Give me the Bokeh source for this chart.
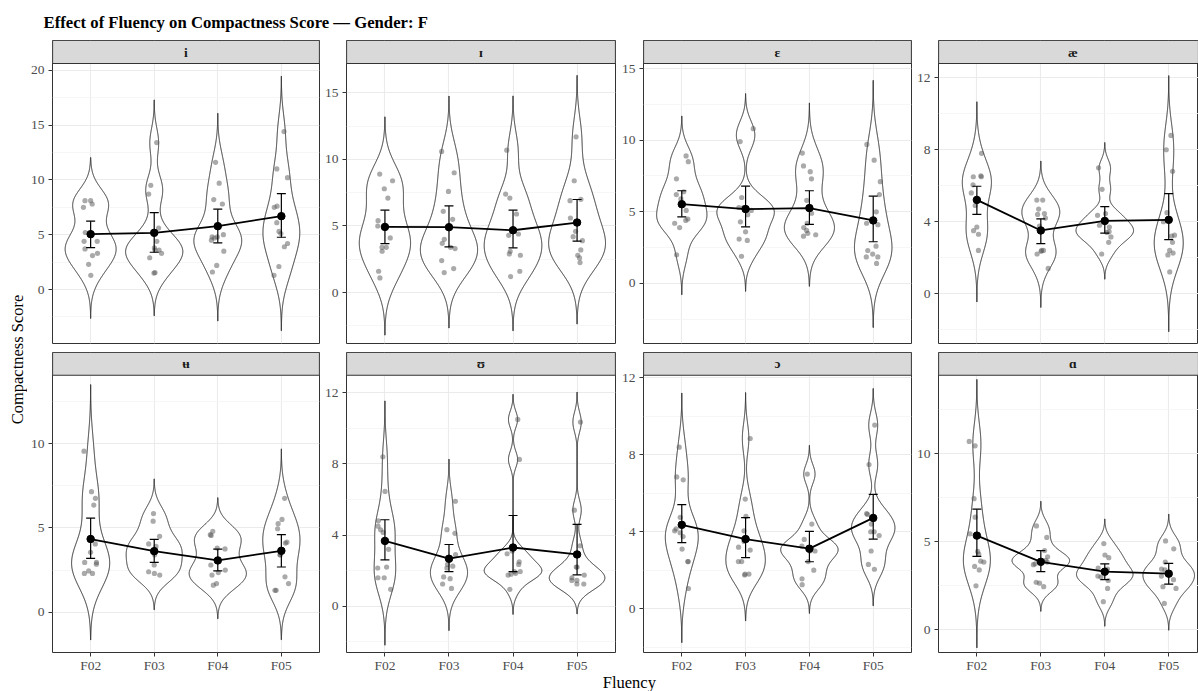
import numpy as np
from bokeh.plotting import figure
from bokeh.layouts import column, row
from bokeh.models import Range1d, FixedTicker, ColumnDataSource, Whisker, TeeHead
from bokeh.core.properties import value
from bokeh.embed import file_html
from bokeh.resources import INLINE

# ---------------- data ----------------
title = "Effect of Fluency on Compactness Score — Gender: F"
x_title = "Fluency"
y_title = "Compactness Score"
fluency = ["F02", "F03", "F04", "F05"]
vowels = ["i", "ɪ", "ɛ", "æ", "ʉ", "ʊ", "ɔ", "ɑ"]

# individual compactness scores, per vowel: [F02, F03, F04, F05]
scores_i = [[8.1, 8.1, 7.8, 7.5, 5.2, 4.4, 4.4, 3.7, 3.3, 3.1, 2.3, 1.3],
            [13.4, 9.5, 8.7, 5.6, 4.4, 3.8, 3.6, 3.6, 3.3, 2.9, 1.55, 1.5],
            [11.6, 9.7, 8.2, 7.8, 5.0, 4.8, 4.8, 4.7, 4.5, 3.5, 2.2, 1.6],
            [14.4, 11.0, 10.2, 7.6, 7.5, 6.1, 5.3, 5.1, 4.2, 3.9, 2.1, 1.3]]
scores_ih = [[8.9, 8.4, 7.8, 7.1, 5.4, 5.0, 4.1, 3.4, 3.4, 3.1, 1.6, 1.1],
             [10.6, 9.0, 7.6, 6.1, 5.5, 4.0, 3.7, 3.4, 3.3, 2.4, 1.8, 1.5],
             [10.7, 7.4, 7.1, 5.9, 4.6, 4.4, 4.3, 3.1, 2.9, 2.8, 1.6, 1.2],
             [11.7, 8.4, 7.0, 6.9, 5.6, 4.6, 4.2, 3.9, 3.2, 2.8, 2.6, 2.25]]
scores_eh = [[8.9, 8.5, 7.3, 6.4, 6.2, 5.9, 5.1, 4.5, 4.4, 4.2, 3.9, 2.0],
             [10.8, 9.9, 6.0, 5.3, 5.3, 5.1, 4.8, 4.3, 3.6, 3.1, 3.0, 1.9],
             [9.1, 8.2, 7.8, 7.3, 5.8, 4.9, 4.2, 3.9, 3.7, 3.5, 3.4, 3.3],
             [9.7, 8.6, 7.1, 6.2, 5.0, 4.2, 4.1, 2.6, 2.3, 2.05, 1.85, 1.85, 1.4]]
scores_ae = [[7.8, 6.55, 6.5, 6.5, 6.05, 5.6, 4.9, 3.7, 3.5, 3.3, 2.4],
             [5.2, 5.2, 4.7, 4.45, 4.4, 4.2, 3.75, 2.4, 2.4, 2.35, 2.2, 1.4],
             [7.0, 5.8, 4.45, 4.35, 3.8, 3.7, 3.45, 3.4, 3.15, 2.85, 2.2],
             [8.8, 8.0, 6.8, 4.5, 4.0, 3.25, 3.2, 2.85, 2.4, 2.25, 2.15, 1.2]]
scores_ubar = [[9.55, 7.15, 6.75, 6.35, 4.05, 3.55, 2.95, 2.95, 2.85, 2.45, 2.3, 2.3],
               [5.85, 5.4, 4.5, 4.05, 3.9, 3.6, 3.4, 2.8, 2.4, 2.3, 2.2],
               [4.8, 4.6, 4.55, 3.8, 3.75, 2.8, 2.5, 2.35, 2.2, 1.7, 1.6],
               [6.75, 5.5, 5.25, 4.95, 4.15, 4.1, 3.4, 3.4, 2.1, 1.7, 1.3, 1.3]]
scores_uh = [[8.4, 6.45, 4.8, 4.5, 4.3, 4.15, 3.2, 2.2, 2.15, 1.6, 1.6, 0.95],
             [5.9, 4.3, 4.1, 2.9, 2.35, 2.25, 2.15, 1.65, 1.55, 1.25, 1.0],
             [10.5, 8.25, 3.1, 2.95, 2.5, 2.35, 1.95, 1.95, 1.85, 1.8, 1.75, 0.95],
             [10.35, 5.4, 3.4, 2.2, 2.2, 1.75, 1.6, 1.45, 1.45, 1.25, 1.25]]
scores_oh = [[8.4, 6.85, 6.7, 4.75, 4.15, 4.05, 3.95, 3.75, 3.1, 2.45, 2.45, 1.05],
             [8.85, 5.7, 4.8, 4.05, 3.5, 3.2, 3.05, 2.45, 2.45, 1.8, 1.8, 1.75],
             [7.0, 4.4, 3.6, 3.25, 3.1, 3.0, 3.0, 2.45, 2.0, 1.55, 1.25],
             [9.55, 7.5, 4.95, 4.9, 4.4, 4.0, 4.0, 3.8, 3.0, 2.3, 2.05]]
scores_ah = [[10.7, 10.45, 7.45, 6.4, 5.45, 4.45, 4.3, 3.9, 3.85, 3.6, 3.4, 2.5],
             [5.9, 5.25, 4.5, 4.15, 3.95, 3.85, 3.75, 3.7, 2.7, 2.65, 2.45],
             [4.9, 4.25, 4.1, 3.5, 3.45, 3.05, 3.0, 2.8, 2.35, 1.6],
             [5.05, 4.6, 3.85, 3.45, 3.4, 3.05, 2.85, 2.45, 2.35, 1.5]]

# mean and error-bar limits, per vowel: [F02, F03, F04, F05]
mean_i = [5.05, 5.17, 5.78, 6.69]; low_i = [3.83, 3.40, 4.26, 4.77]; high_i = [6.23, 7.02, 7.33, 8.75]
mean_ih = [4.93, 4.91, 4.68, 5.26]; low_ih = [3.68, 3.43, 3.36, 3.86]; high_ih = [6.19, 6.51, 6.19, 6.99]
mean_eh = [5.53, 5.19, 5.26, 4.40]; low_eh = [4.65, 3.95, 4.12, 2.91]; high_eh = [6.47, 6.79, 6.47, 6.09]
mean_ae = [5.21, 3.51, 4.04, 4.10]; low_ae = [4.41, 2.78, 3.36, 3.00]; high_ae = [5.97, 4.15, 4.84, 5.56]
mean_ubar = [4.34, 3.62, 3.07, 3.64]; low_ubar = [3.19, 2.95, 2.45, 2.68]; high_ubar = [5.58, 4.32, 3.74, 4.60]
mean_uh = [3.67, 2.67, 3.30, 2.91]; low_uh = [2.60, 1.95, 1.95, 1.76]; high_uh = [4.86, 3.47, 5.10, 4.60]
mean_oh = [4.36, 3.62, 3.12, 4.72]; low_oh = [3.43, 2.66, 2.44, 3.62]; high_oh = [5.41, 4.74, 4.02, 5.94]
mean_ah = [5.35, 3.86, 3.30, 3.19]; low_ah = [4.17, 3.30, 2.85, 2.59]; high_ah = [6.85, 4.50, 3.75, 3.77]

scores = [scores_i, scores_ih, scores_eh, scores_ae, scores_ubar, scores_uh, scores_oh, scores_ah]
means = [mean_i, mean_ih, mean_eh, mean_ae, mean_ubar, mean_uh, mean_oh, mean_ah]
lows = [low_i, low_ih, low_eh, low_ae, low_ubar, low_uh, low_oh, low_ah]
highs = [high_i, high_ih, high_eh, high_ae, high_ubar, high_uh, high_oh, high_ah]

# y-axis ticks per panel (free scales)
y_major = [[0, 5, 10, 15, 20], [0, 5, 10, 15], [0, 5, 10, 15], [0, 4, 8, 12],
           [0, 5, 10], [0, 4, 8, 12], [0, 4, 8, 12], [0, 5, 10]]

# ---------------- layout / style ----------------
y_limits = [(-4.92, 20.61), (-3.83, 17.21), (-4.19, 15.35), (-2.78, 12.80),
            (-2.39, 14.05), (-2.60, 12.98), (-2.28, 12.14), (-1.29, 14.46)]
SERIF = "Liberation Serif"
DARK = "#333333"
GRID = "#EBEBEB"
MINOR = "#F4F4F4"
PANEL_H = 280
STRIP_H = 23
col_left = [24, 25, 26, 25]
col_frame = [268, 269, 268, 260]
col_right = [2, 2, 2, 0]
x_end = [4.6, 4.6, 4.6, 0.4 + 260 * 4.2 / 268.6]
positions = list(range(1, len(fluency) + 1))
rng = np.random.default_rng(11)


def bw_nrd0(v):
    v = np.asarray(v, float)
    sd = v.std(ddof=1)
    q75, q25 = np.percentile(v, [75, 25])
    lo = min(sd, (q75 - q25) / 1.34)
    if lo <= 0:
        lo = sd if sd > 0 else 1.0
    return 0.9 * lo * len(v) ** -0.2


def minor_of(major, lim):
    step = major[1] - major[0]
    vals = np.arange(major[0] - step / 2, lim[1], step)
    return [float(t) for t in vals if lim[0] <= t <= lim[1]]


def make_panel(k):
    c = k % 4
    r = k // 4
    W = col_left[c] + col_frame[c] + col_right[c]
    bottom = 9 if r == 0 else 20
    lo, hi = y_limits[k]
    strip_units = STRIP_H * (hi - lo) / PANEL_H
    top = hi + strip_units
    p = figure(width=W, height=PANEL_H + STRIP_H + bottom, x_range=Range1d(0.4, x_end[c]),
               y_range=Range1d(lo, top), output_backend="svg", toolbar_location=None,
               min_border_left=col_left[c], min_border_right=col_right[c],
               min_border_top=0, min_border_bottom=bottom,
               background_fill_color="white", border_fill_color="white",
               outline_line_color=DARK, outline_line_width=1)
    yt = FixedTicker(ticks=y_major[k], minor_ticks=minor_of(y_major[k], (lo, hi)))
    xt = FixedTicker(ticks=positions)
    p.yaxis.ticker = yt
    p.ygrid.ticker = yt
    p.xaxis.ticker = xt
    p.xgrid.ticker = xt
    p.xaxis.major_label_overrides = {pos: f for pos, f in zip(positions, fluency)}
    p.ygrid.grid_line_color = GRID
    p.ygrid.grid_line_width = 1.1
    p.ygrid.minor_grid_line_color = MINOR
    p.ygrid.minor_grid_line_width = 0.8
    p.xgrid.grid_line_color = GRID
    p.xgrid.grid_line_width = 1.1
    for ax in p.axis:
        ax.axis_line_color = None
        ax.major_tick_line_color = DARK
        ax.major_tick_out = 4
        ax.major_tick_in = 0
        ax.minor_tick_line_color = None
        ax.major_label_text_font = SERIF
        ax.major_label_text_font_size = "13.5px"
        ax.major_label_text_color = "#4D4D4D"
    p.yaxis.major_label_standoff = 4
    p.xaxis.major_label_standoff = 1
    if r == 0:
        p.xaxis.visible = False

    # facet strip (grey band above the panel)
    p.quad(left=[0.4], right=[x_end[c]], bottom=[hi], top=[top], fill_color="#D9D9D9",
           line_color=DARK, line_width=1.2)
    p.text(x=[float(np.mean(positions))], y=[hi + strip_units / 2], text=[vowels[k]],
           text_align="center", text_baseline="middle", text_font=value(SERIF),
           text_font_style="bold", text_font_size="13.5px", text_color="#1A1A1A")

    # violins (gaussian KDE, area-scaled within panel, untrimmed)
    dens = []
    for g in scores[k]:
        a = np.asarray(g, float)
        bw = bw_nrd0(a)
        yy = np.linspace(a.min() - 3 * bw, a.max() + 3 * bw, 512)
        d = np.exp(-0.5 * ((yy[:, None] - a[None, :]) / bw) ** 2).sum(1) / (len(a) * bw * np.sqrt(2 * np.pi))
        dens.append((yy, d))
    dmax = max(d.max() for _, d in dens)
    xs, ys = [], []
    for pos, (yy, d) in zip(positions, dens):
        half = 0.45 * d / dmax
        xs.append(np.concatenate([pos + half, (pos - half)[::-1]]).tolist())
        ys.append(np.concatenate([yy, yy[::-1]]).tolist())
    p.patches(xs, ys, fill_color="white", line_color="#2B2B2B", line_width=1.0)

    # jittered observations
    px, py = [], []
    for pos, g in zip(positions, scores[k]):
        px.extend((pos + rng.uniform(-0.12, 0.12, len(g))).tolist())
        py.extend(g)
    p.scatter(px, py, size=5.2, fill_color="#555555", fill_alpha=0.5, line_color=None)

    # mean +/- error bars
    src = ColumnDataSource(dict(x=positions, m=means[k], lo=lows[k], hi=highs[k]))
    p.add_layout(Whisker(source=src, base="x", lower="lo", upper="hi", dimension="height",
                         level="overlay", line_color="black", line_width=1.2,
                         upper_head=TeeHead(size=9, line_color="black", line_width=1.2),
                         lower_head=TeeHead(size=9, line_color="black", line_width=1.2)))
    p.line("x", "m", source=src, line_color="black", line_width=1.8)
    p.scatter("x", "m", source=src, size=7.5, fill_color="black", line_color="black")
    return p


panels = [make_panel(k) for k in range(8)]
cols = [column(panels[c], panels[c + 4], spacing=0) for c in range(4)]
grid = row(*cols, spacing=0)

GRID_H = 2 * (PANEL_H + STRIP_H) + 9 + 20
ylab = figure(width=27, height=GRID_H, x_range=Range1d(0, 27), y_range=Range1d(0, GRID_H),
              x_axis_type=None, y_axis_type=None, output_backend="svg", toolbar_location=None,
              min_border=0, outline_line_color=None)
ylab.text(x=[17], y=[GRID_H - (359 - 40)], text=[y_title], angle=np.pi / 2, text_align="center",
          text_baseline="middle", text_font=value(SERIF), text_font_size="16.5px", text_color="black")

head = figure(width=1198, height=40, x_range=Range1d(0, 1198), y_range=Range1d(0, 40),
              x_axis_type=None, y_axis_type=None, output_backend="svg", toolbar_location=None,
              min_border=0, outline_line_color=None)
head.text(x=[43], y=[18], text=[title], text_align="left", text_baseline="middle",
          text_font=value(SERIF), text_font_style="bold", text_font_size="16.7px", text_color="black")

# x-axis title: transparent strip that overlaps the free space under the tick labels
OVERLAP = 10
XLAB_H = 691 - 40 - GRID_H + OVERLAP
xlab = figure(width=1198, height=XLAB_H, x_range=Range1d(0, 1198), y_range=Range1d(0, XLAB_H),
              x_axis_type=None, y_axis_type=None, output_backend="svg", toolbar_location=None,
              min_border=0, outline_line_color=None, background_fill_color=None,
              border_fill_color=None, margin=(-OVERLAP, 0, 0, 0))
xlab.text(x=[628.8], y=[9.5], text=[x_title], text_align="center",
          text_baseline="middle", text_font=value(SERIF), text_font_size="16.5px", text_color="black")

page = column(head, row(ylab, grid, spacing=0), xlab, spacing=0)

with open("out.html", "w") as f:
    f.write(file_html(page, INLINE))
